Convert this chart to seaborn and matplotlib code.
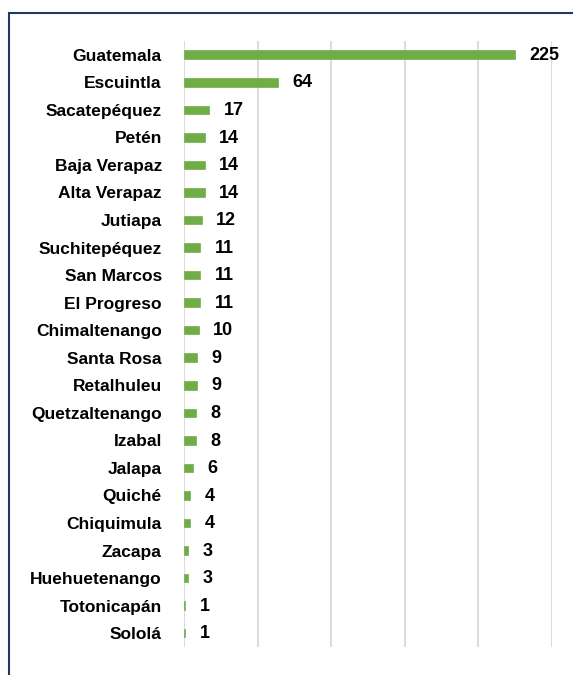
import pandas as pd
import numpy as np
import matplotlib.pyplot as plt
import matplotlib.patches as mpatches
import seaborn as sns

departamentos = ["Guatemala", "Escuintla", "Sacatepéquez", "Petén", "Baja Verapaz",
                 "Alta Verapaz", "Jutiapa", "Suchitepéquez", "San Marcos", "El Progreso",
                 "Chimaltenango", "Santa Rosa", "Retalhuleu", "Quetzaltenango", "Izabal",
                 "Jalapa", "Quiché", "Chiquimula", "Zacapa", "Huehuetenango",
                 "Totonicapán", "Sololá"]
casos = [225, 64, 17, 14, 14, 14, 12, 11, 11, 11, 10, 9, 9, 8, 8, 6, 4, 4, 3, 3, 1, 1]
x_ticks = [0, 50, 100, 150, 200, 250]

df = pd.DataFrame({"departamento": departamentos, "casos": casos})

sns.set_style("white")
plt.rcParams["font.family"] = ["Liberation Sans", "DejaVu Sans"]
plt.rcParams["text.color"] = "black"
plt.rcParams["ytick.color"] = "black"
plt.rcParams["ytick.labelcolor"] = "black"

fig = plt.figure(figsize=(5.73, 6.75), dpi=100)
ax = fig.add_axes([0.3211, 0.0415, 0.6417, 0.8978])

sns.barplot(data=df, x="casos", y="departamento", orient="h", color="#70AD47",
            width=0.31, saturation=1, ax=ax, zorder=3,
            edgecolor="#70AD47", linewidth=0.5)

ax.set_xlim(0, 250)
ax.set_xticks(x_ticks)
ax.set_xticklabels([])
ax.grid(axis="x", color="#D9D9D9", linewidth=1.3, zorder=0)
ax.set_axisbelow(True)
for s in ax.spines.values():
    s.set_visible(False)
ax.set_xlabel("")
ax.set_ylabel("")
ax.tick_params(axis="both", length=0)
ax.tick_params(axis="y", pad=16, labelcolor="black")
for lbl in ax.get_yticklabels():
    lbl.set_fontsize(12.5)
    lbl.set_fontweight("bold")
    lbl.set_color("black")

for i, v in enumerate(casos):
    ax.annotate(str(v), xy=(v, i), xytext=(10.5, -0.5), textcoords="offset points",
                va="center", ha="left", fontsize=13, fontweight="bold",
                color="black", annotation_clip=False)

# marco del gráfico (solo se ven los bordes izquierdo y superior)
frame = mpatches.Rectangle((8.5 / 573, -0.5), 1.2, 1.5 - 12.5 / 675,
                           transform=fig.transFigure, fill=False,
                           edgecolor="#1F3864", linewidth=1.5, clip_on=False)
fig.patches.append(frame)

plt.savefig("out.png", dpi=100)
plt.close()
